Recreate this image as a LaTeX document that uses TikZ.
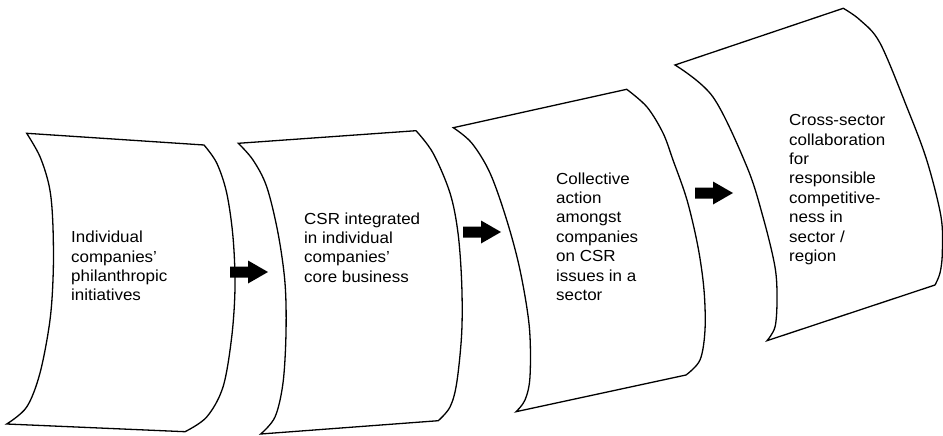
\documentclass[tikz,border=0pt]{standalone}
\usepackage{fontspec}
\setmainfont[FakeStretch=1.06]{Liberation Sans}
\begin{document}
\begin{tikzpicture}[x=1pt,y=-1pt,
  sheet/.style={draw=black, fill=white, line width=1.3pt, line join=miter},
  sheettext/.style={anchor=north west, inner sep=0pt, align=left,
    font=\fontsize{16}{19.4}\selectfont},
  blockarrow/.pic={\fill[black] (0,-5.5) -- (18,-5.5) -- (18,-11.5) -- (38,0)
    -- (18,11.5) -- (18,5.5) -- (0,5.5) -- cycle;}
]
\useasboundingbox (0,0) rectangle (943,436);

% curved sheets: left edge top-to-bottom, then right edge bottom-to-top
\draw[sheet] plot[smooth, tension=0.55] coordinates {(26.7,133.3) (40,156.7) (49.3,186.7) (52.7,220) (53.3,270) (50,320) (40,373) (26.7,407) (6.7,424)}
  -- plot[smooth, tension=0.55] coordinates {(185,431.7) (206.7,417) (223,387) (231.7,337) (235,287) (233,237) (226.7,193) (216.7,163) (204,145)} -- cycle;

\draw[sheet] plot[smooth, tension=0.55] coordinates {(238.3,143.3) (253,160) (266.7,186.7) (278,233) (285,283) (286,333) (283,383) (275,417) (260.7,434)}
  -- plot[smooth, tension=0.55] coordinates {(438.3,420.7) (450,407) (456.7,383) (461.7,333) (461.7,283) (458,233) (450,193) (433,153) (416,130.7)} -- cycle;

\draw[sheet] plot[smooth, tension=0.55] coordinates {(453.3,127.7) (471.7,143) (490,173) (506.7,220) (520,270) (529.3,326.7) (530,376.7) (525,400) (516,411.7)}
  -- plot[smooth, tension=0.55] coordinates {(686,375) (700,360) (705,330) (704,290) (698,247) (687,200) (673,160) (663,133) (647,107) (626.7,89.3)} -- cycle;

\draw[sheet] plot[smooth, tension=0.55] coordinates {(675,65) (713,97) (747,167) (763,217) (775,267) (777,300) (775,327) (767,340.7)}
  -- plot[smooth, tension=0.55] coordinates {(935,285) (940,273) (942.3,253) (941,216.7) (926.7,160) (906.7,106.7) (880,43) (860,20) (843.3,8.3)} -- cycle;

% stage texts
\node[sheettext] (t1) at (71,231) {Individual\\companies'\\philanthropic\\initiatives};
\node[sheettext] (t2) at (304,212.3) {CSR integrated\\in individual\\companies'\\core business};
\node[sheettext] (t3) at (556,172.3) {Collective\\action\\amongst\\companies\\on CSR\\issues in a\\sector};
\node[sheettext] (t4) at (789,114.3) {Cross-sector\\collaboration\\for\\responsible\\competitive-\\ness in\\sector /\\region};

% block arrows between stages
\pic (a1) at (230,272) {blockarrow};
\pic (a2) at (463,232) {blockarrow};
\pic (a3) at (695,193) {blockarrow};
\end{tikzpicture}
\end{document}
